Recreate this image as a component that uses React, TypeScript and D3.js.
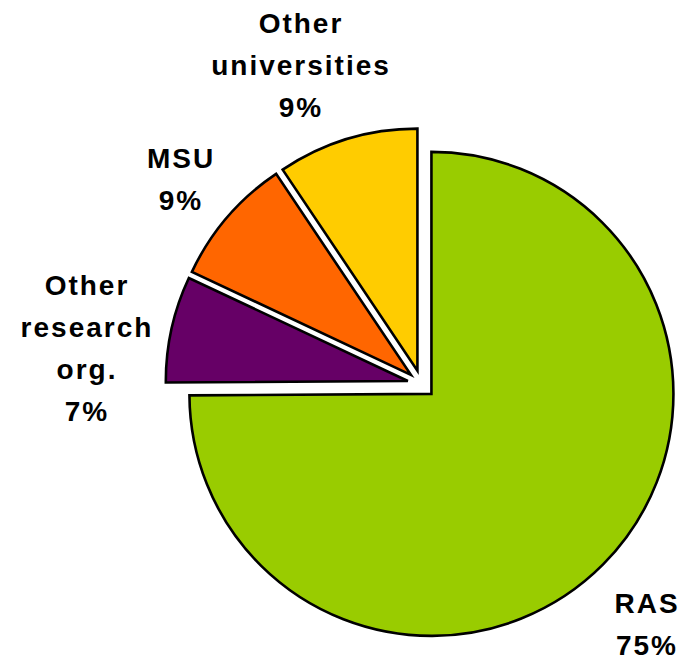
import React from "react";
import * as d3 from "d3";

const categories = ["RAS", "Other research org.", "MSU", "Other universities"];
const values = [74.9, 7.1, 8.6, 9.4];
const percentLabels = ["75%", "7%", "9%", "9%"];
const labelLines = [["RAS"], ["Other", "research", "org."], ["MSU"], ["Other", "universities"]];

const colors = ["#99CC00", "#660066", "#FF6600", "#FFCC00"];

const W = 682;
const H = 657;
const CX = 421.5;
const CY = 384;
const R = 242;
const EXPLODE = 14;
const LINE_H = 42;
// label anchor: center x and baseline of first line
const labelAnchors: [number, number][] = [
  [646, 613],
  [86, 295],
  [180, 168],
  [300, 33],
];

export default function App() {
  const pie = d3
    .pie<number>()
    .sort(null)
    .value((d) => d)
    .startAngle(0)
    .endAngle(2 * Math.PI);
  const arcs = pie(values);
  const arc = d3.arc<d3.PieArcDatum<number>>().innerRadius(0).outerRadius(R);

  return (
    <svg
      width={W}
      height={H}
      style={{ position: "absolute", left: 0, top: 0, display: "block", background: "#fff" }}
    >
      {arcs.map((a, i) => {
        const mid = (a.startAngle + a.endAngle) / 2;
        const dx = Math.sin(mid) * EXPLODE;
        const dy = -Math.cos(mid) * EXPLODE;
        return (
          <path
            key={categories[i]}
            d={arc(a) || ""}
            transform={`translate(${CX + dx},${CY + dy})`}
            fill={colors[i]}
            stroke="#000"
            strokeWidth={2.6}
            strokeLinejoin="miter"
          />
        );
      })}
      {categories.map((c, i) => {
        const [x, y] = labelAnchors[i];
        const lines = [...labelLines[i], percentLabels[i]];
        return (
          <text
            key={c}
            x={x}
            y={y}
            textAnchor="middle"
            fontFamily="'Liberation Sans', Arial, sans-serif"
            fontWeight="bold"
            fontSize={28}
            fill="#000"
            style={{ letterSpacing: "2px" }}
          >
            {lines.map((l, j) => (
              <tspan key={j} x={x + 1} y={y + j * LINE_H}>
                {l}
              </tspan>
            ))}
          </text>
        );
      })}
    </svg>
  );
}
